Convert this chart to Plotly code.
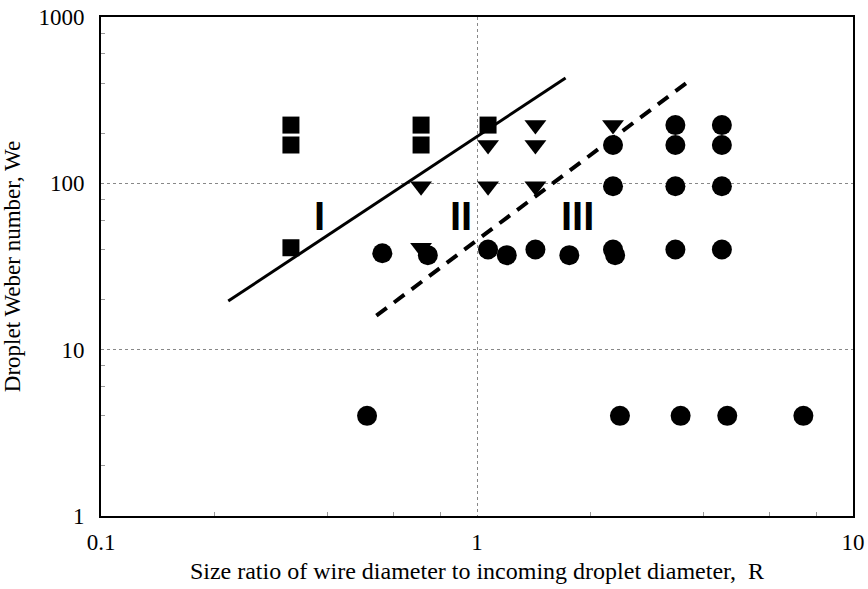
import math
import plotly.graph_objects as go

# ---- data ----
square_R = [0.32, 0.32, 0.32, 0.71, 0.71, 1.07]
square_We = [224, 170, 41, 224, 170, 224]

triangle_R = [0.71, 0.71, 1.07, 1.07, 1.43, 1.43, 1.43, 2.30]
triangle_We = [96, 41, 170, 96, 224, 170, 96, 224]

circle_R = [0.56, 0.74, 1.07, 1.20, 1.43, 1.76, 2.30, 2.33, 3.37, 4.48,
            2.30, 2.30, 3.37, 3.37, 3.37, 4.48, 4.48, 4.48,
            0.51, 2.40, 3.48, 4.63, 7.38]
circle_We = [38, 37, 40, 37, 40, 37, 40, 37, 40, 40,
             170, 96, 224, 170, 96, 224, 170, 96,
             4, 4, 4, 4, 4]

solid_R = [0.218, 1.72]
solid_We = [19.6, 430]
dashed_R = [0.54, 3.6]
dashed_We = [16, 400]

region_labels = ["I", "II", "III"]
region_R = [0.381, 0.906, 1.854]
region_We = [63.5, 63.5, 63.5]

x_ticks = [0.1, 1, 10]
x_ticktext = ["0.1", "1", "10"]
y_ticks = [1, 10, 100, 1000]
y_ticktext = ["1", "10", "100", "1000"]

minor_x = [m * d for d in (0.1, 1) for m in (2, 4, 6, 8)]
minor_y = [m * d for d in (1, 10, 100) for m in (2, 4, 6, 8)]

fig = go.Figure()
fig.add_trace(go.Scatter(x=solid_R, y=solid_We, mode="lines",
                         line=dict(color="black", width=3), showlegend=False))
fig.add_trace(go.Scatter(x=dashed_R, y=dashed_We, mode="lines",
                         line=dict(color="black", width=4, dash="13px,9px"),
                         showlegend=False))
fig.add_trace(go.Scatter(x=square_R, y=square_We, mode="markers",
                         marker=dict(symbol="square", size=17, color="black"),
                         showlegend=False))
fig.add_trace(go.Scatter(x=triangle_R, y=triangle_We, mode="markers",
                         marker=dict(symbol="triangle-down", size=19, color="black"),
                         showlegend=False))
fig.add_trace(go.Scatter(x=circle_R, y=circle_We, mode="markers",
                         marker=dict(symbol="circle", size=20, color="black"),
                         showlegend=False))

for t, rx, wy in zip(region_labels, region_R, region_We):
    fig.add_annotation(x=math.log10(rx), y=math.log10(wy), text="<b>%s</b>" % t,
                       showarrow=False,
                       font=dict(family="Liberation Sans Narrow, Liberation Sans, Arial",
                                 size=40, color="black"))

serif = "Liberation Serif, Times New Roman, serif"
tick_font = dict(family=serif, size=23, color="black")

fig.update_xaxes(type="log", range=[-1, 1], tickvals=x_ticks, ticktext=x_ticktext,
                 showline=True, linecolor="black", linewidth=2, mirror=True,
                 ticks="", ticklabelstandoff=4, tickfont=tick_font, automargin=False,
                 ticklabeloverflow="allow",
                 showgrid=True, gridcolor="#888", griddash="dot", gridwidth=1,
                 zeroline=False,
                 minor=dict(tickvals=minor_x, ticks="inside", ticklen=4,
                            tickcolor="#999", showgrid=False),
                 title=dict(text="Size ratio of wire diameter to incoming droplet diameter,  R",
                            font=dict(family=serif, size=24, color="black"), standoff=9))
fig.update_yaxes(type="log", range=[0, 3], tickvals=y_ticks, ticktext=y_ticktext,
                 showline=True, linecolor="black", linewidth=2, mirror=True,
                 ticks="", ticklabelstandoff=10, tickfont=tick_font, automargin=False,
                 ticklabeloverflow="allow",
                 showgrid=True, gridcolor="#888", griddash="dot", gridwidth=1,
                 zeroline=False,
                 minor=dict(tickvals=minor_y, ticks="inside", ticklen=4,
                            tickcolor="#999", showgrid=False),
                 title=dict(text="Droplet Weber number, We",
                            font=dict(family=serif, size=23, color="black"), standoff=15))

fig.update_layout(width=868, height=589, plot_bgcolor="white", paper_bgcolor="white",
                  margin=dict(l=101, r=15, t=17, b=73))

# remove the default 8px page margin so the figure fills the 868x589 window
fig.write_html("out.html", config={"displayModeBar": False},
               post_script="document.body.style.margin='0';")
